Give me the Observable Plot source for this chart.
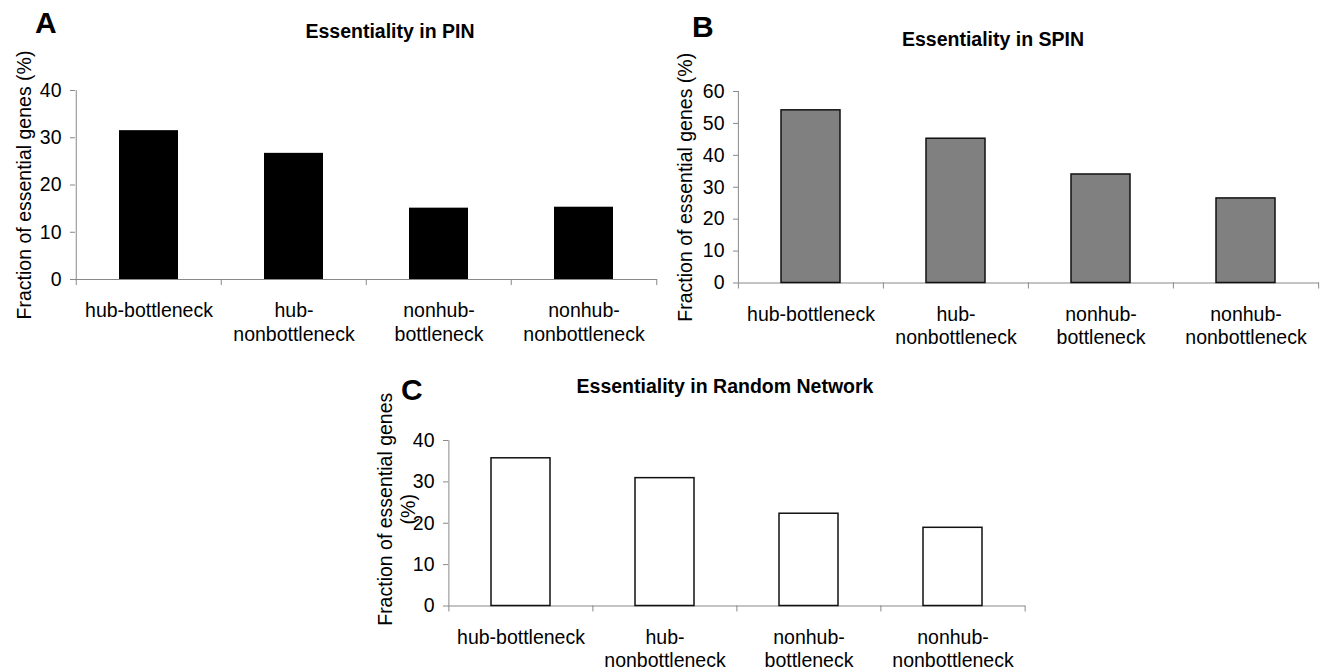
<!DOCTYPE html>
<html><head><meta charset="utf-8">
<script src="https://cdn.jsdelivr.net/npm/d3@7"></script>
<script src="https://cdn.jsdelivr.net/npm/@observablehq/plot@0.6"></script>
<style>
html,body{margin:0;padding:0;background:#fff;}
#root{position:relative;width:1324px;height:670px;overflow:hidden;font-family:"Liberation Sans",Arial,sans-serif;color:#000;}
.panel{position:absolute;}
.letter{position:absolute;font-weight:bold;font-size:30px;line-height:30px;}
.title{position:absolute;font-weight:bold;font-size:19.5px;line-height:19.5px;transform:translateX(-50%);white-space:nowrap;}
</style></head><body><div id="root"></div>
<script>
const categories = ["hub-bottleneck", "hub-\nnonbottleneck", "nonhub-\nbottleneck", "nonhub-\nnonbottleneck"];
const pinValues = [31.5, 26.7, 15.1, 15.3];
const spinValues = [54.1, 45.2, 34.0, 26.5];
const randomValues = [35.7, 30.9, 22.3, 18.9];
const pinTicks = [0, 10, 20, 30, 40];
const spinTicks = [0, 10, 20, 30, 40, 50, 60];
const randomTicks = [0, 10, 20, 30, 40];
const titles = ["Essentiality in PIN", "Essentiality in SPIN", "Essentiality in Random Network"];
const letters = ["A", "B", "C"];
const yLabelOne = "Fraction of essential genes (%)";
const yLabelTwo = "Fraction of essential genes\n(%)";

const axisColor = "#888";
const font = "'Liberation Sans', Arial, sans-serif";
const root = document.getElementById("root");

function panel(o) {
  const step = (o.width - o.ml - o.mr) / categories.length;
  const data = categories.map((c, i) => ({category: c, value: o.values[i]}));
  const yMax = o.ticks[o.ticks.length - 1];
  const chart = Plot.plot({
    width: o.width, height: o.height,
    marginLeft: o.ml, marginRight: o.mr, marginTop: o.mt, marginBottom: o.mb,
    style: {fontFamily: font, fontSize: "19.5px", color: "#000", background: "transparent", overflow: "visible"},
    x: {domain: categories, paddingInner: 0.59, paddingOuter: 0.295, axis: null},
    y: {domain: [0, yMax], axis: null},
    marks: [
      Plot.ruleY([0], {stroke: axisColor}),
      Plot.ruleX([categories[0]], {x: d => d, dx: -step / 2, y1: yMax, y2: 0, stroke: axisColor}),
      Plot.ruleX(categories, {x: d => d, dx: -step / 2, y1: 0, y2: 0, insetBottom: -6, stroke: axisColor}),
      Plot.ruleX([categories[categories.length - 1]], {x: d => d, dx: step / 2, y1: 0, y2: 0, insetBottom: -6, stroke: axisColor}),
      Plot.axisY({ticks: o.ticks, tickSize: 5, tickPadding: 9, label: null, stroke: axisColor, fill: "#000", fontSize: 19.5}),
      Plot.barY(data, {x: "category", y: "value", fill: o.fill, stroke: o.stroke, strokeWidth: o.stroke ? 1.5 : 0}),
      Plot.text(categories, {x: d => d, text: d => d, frameAnchor: "bottom", lineAnchor: "top", textAnchor: "middle", dy: 21, fontSize: 19.5, lineHeight: 1.2, fill: "#000"}),
      Plot.text([o.yLabel], {text: d => d, frameAnchor: "left", textAnchor: "middle", lineAnchor: "middle", rotate: -90, dx: o.labelDx, dy: o.labelDy, fontSize: 19.5, lineHeight: 1.2, fill: "#000"})
    ]
  });
  const wrap = document.createElement("div");
  wrap.className = "panel";
  wrap.style.left = o.left + "px";
  wrap.style.top = o.top + "px";
  wrap.appendChild(chart);
  root.appendChild(wrap);

  const letter = document.createElement("div");
  letter.className = "letter";
  letter.textContent = o.letter;
  letter.style.left = o.letterX + "px";
  letter.style.top = o.letterY + "px";
  root.appendChild(letter);

  const title = document.createElement("div");
  title.className = "title";
  title.textContent = o.title;
  title.style.left = o.titleX + "px";
  title.style.top = o.titleY + "px";
  root.appendChild(title);
}

panel({values: pinValues, ticks: pinTicks, fill: "#000", stroke: null,
  left: 0, top: 0, width: 662, height: 340, ml: 75, mr: 5, mt: 90, mb: 61,
  yLabel: yLabelOne, labelDx: -52.5, labelDy: 0,
  letter: letters[0], letterX: 35, letterY: 8, title: titles[0], titleX: 390, titleY: 22});

panel({values: spinValues, ticks: spinTicks, fill: "#808080", stroke: "#111",
  left: 662, top: 0, width: 662, height: 340, ml: 76, mr: 5, mt: 91, mb: 57.5,
  yLabel: yLabelOne, labelDx: -54, labelDy: 0,
  letter: letters[1], letterX: 692, letterY: 12, title: titles[1], titleX: 993, titleY: 30});

panel({values: randomValues, ticks: randomTicks, fill: "#fff", stroke: "#111",
  left: 340, top: 340, width: 700, height: 330, ml: 108, mr: 15, mt: 100, mb: 64.5,
  yLabel: yLabelTwo, labelDx: -52.5, labelDy: -14,
  letter: letters[2], letterX: 401, letterY: 375, title: titles[2], titleX: 725, titleY: 377});
</script></body></html>
